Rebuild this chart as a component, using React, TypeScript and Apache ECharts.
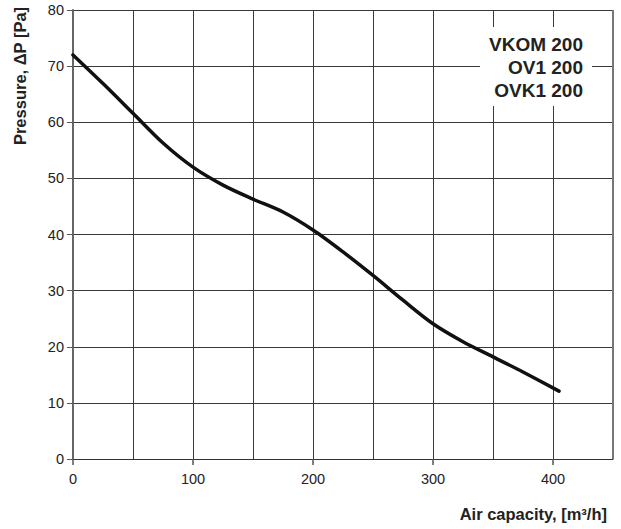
import React, { useEffect, useRef } from "react";
import * as echarts from "echarts";

const airCapacity = [0, 25, 50, 75, 100, 125, 150, 175, 200, 225, 250, 275, 300, 325, 350, 375, 405];
const pressure = [72, 66.9, 61.6, 56.3, 52.0, 48.8, 46.3, 44.0, 40.8, 36.9, 32.7, 28.3, 24.1, 20.9, 18.2, 15.5, 12.1];
const xLabelTicks = [0, 100, 200, 300, 400];
const modelLines = ["VKOM 200", "OV1 200", "OVK1 200"];

const FONT = "'Liberation Sans', Arial, Helvetica, sans-serif";

export default function App() {
  const ref = useRef<HTMLDivElement>(null);
  useEffect(() => {
    if (!ref.current) return;
    const chart = echarts.init(ref.current, null, { renderer: "svg" });
    chart.setOption({
      animation: false,
      backgroundColor: "#fff",
      textStyle: { fontFamily: FONT },
      grid: { left: 73, right: 8, top: 10, bottom: 70, containLabel: false },
      xAxis: {
        type: "value",
        min: 0,
        max: 450,
        interval: 50,
        axisLine: { show: true, onZero: false, lineStyle: { color: "#333", width: 1 } },
        axisTick: { show: false },
        axisLabel: {
          margin: 12,
          fontSize: 14.5,
          color: "#222",
          fontFamily: FONT,
          formatter: (v: number) => (v % 100 === 0 && v <= 400 ? String(v) : ""),
        },
        splitLine: { show: true, lineStyle: { color: "#3a3a3a", width: 1 } },
      },
      yAxis: {
        type: "value",
        min: 0,
        max: 80,
        interval: 10,
        axisLine: { show: true, lineStyle: { color: "#666", width: 2 } },
        axisTick: { show: true, length: 6, inside: false, lineStyle: { color: "#555", width: 1 } },
        axisLabel: { margin: 9, fontSize: 14.5, color: "#222", fontFamily: FONT },
        splitLine: { show: true, lineStyle: { color: "#3a3a3a", width: 1 } },
      },
      graphic: [
        {
          type: "rect",
          left: 480,
          top: 27,
          shape: { width: 112, height: 79 },
          style: { fill: "#fff" },
          z: 100,
        },
        ...modelLines.map((t, i) => ({
          type: "text",
          x: 583,
          y: 44.5 + i * 23,
          z: 101,
          style: {
            text: t,
            fontFamily: FONT,
            fontWeight: "bold",
            fontSize: 19,
            fill: "#222",
            textAlign: "right",
            textVerticalAlign: "middle",
          },
        })),
        {
          type: "text",
          x: 20,
          y: 76,
          rotation: Math.PI / 2,
          z: 101,
          style: {
            text: "Pressure, ΔP [Pa]",
            fontFamily: FONT,
            fontWeight: "bold",
            fontSize: 16.5,
            fill: "#222",
            textAlign: "center",
            textVerticalAlign: "middle",
          },
        },
        {
          type: "text",
          x: 607,
          y: 514,
          z: 101,
          style: {
            text: "Air capacity, [m³/h]",
            fontFamily: FONT,
            fontWeight: "bold",
            fontSize: 16.5,
            fill: "#222",
            textAlign: "right",
            textVerticalAlign: "middle",
          },
        },
      ],
      series: [
        {
          type: "line",
          data: airCapacity.map((x, i) => [x, pressure[i]]),
          smooth: 0.3,
          showSymbol: false,
          lineStyle: { color: "#111", width: 3.5, cap: "round" },
          z: 5,
        },
        {
          type: "custom",
          data: xLabelTicks.map((v) => [v, 0]),
          clip: false,
          silent: true,
          renderItem: (params: any, api: any) => {
            const p = api.coord([api.value(0), 0]);
            return {
              type: "line",
              shape: { x1: p[0], y1: p[1], x2: p[0], y2: p[1] + 6 },
              style: { stroke: "#555", lineWidth: 1.5 },
            };
          },
        },
        {
          type: "line",
          data: [[450, 0], [450, 80]],
          showSymbol: false,
          silent: true,
          lineStyle: { color: "#777", width: 2 },
          z: 4,
        },
      ],
    });
    return () => chart.dispose();
  }, []);
  return <div ref={ref} style={{ width: 621, height: 529, position: "absolute", left: 0, top: 0 }} />;
}
